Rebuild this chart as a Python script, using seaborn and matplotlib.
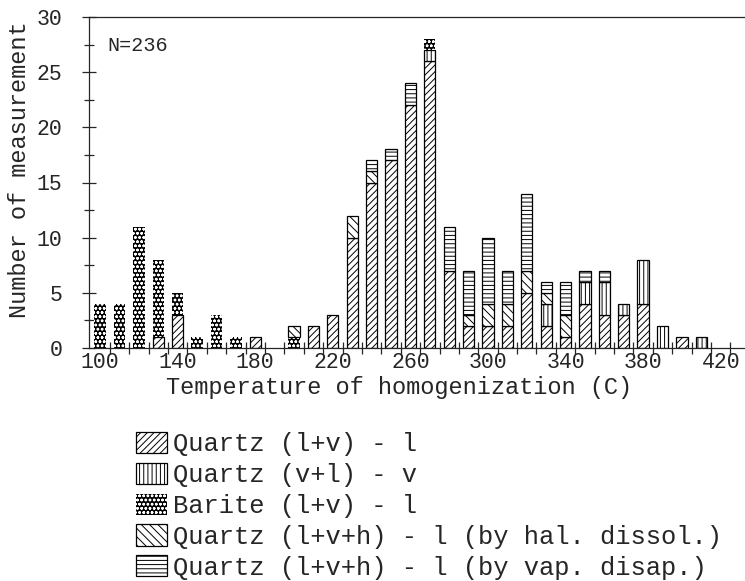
import numpy as np
import pandas as pd
import matplotlib
matplotlib.use("Agg")
import matplotlib.pyplot as plt
import matplotlib.patches as mpatches
import seaborn as sns

# ---- data ----
temps = [100, 110, 120, 130, 140, 150, 160, 170, 180, 190, 200, 210, 220, 230, 240,
         250, 260, 270, 280, 290, 300, 310, 320, 330, 340, 350, 360, 370, 380, 390,
         400, 410]
quartz_lv_l = [0, 0, 0, 1, 3, 0, 0, 0, 1, 0, 0, 2, 3, 10, 15,
               17, 22, 26, 7, 2, 2, 2, 5, 2, 1, 4, 3, 3, 4, 0,
               1, 0]
quartz_vl_v = [0, 0, 0, 0, 0, 0, 0, 0, 0, 0, 0, 0, 0, 0, 0,
               0, 0, 1, 0, 0, 0, 0, 0, 2, 0, 2, 3, 1, 4, 2,
               0, 1]
barite_lv_l = [4, 4, 11, 7, 2, 1, 3, 1, 0, 0, 1, 0, 0, 0, 0,
               0, 0, 1, 0, 0, 0, 0, 0, 0, 0, 0, 0, 0, 0, 0,
               0, 0]
quartz_hal = [0, 0, 0, 0, 0, 0, 0, 0, 0, 0, 1, 0, 0, 2, 1,
              0, 0, 0, 0, 1, 2, 2, 2, 1, 2, 0, 0, 0, 0, 0,
              0, 0]
quartz_vap = [0, 0, 0, 0, 0, 0, 0, 0, 0, 0, 0, 0, 0, 0, 1,
              1, 2, 0, 4, 4, 6, 3, 7, 1, 3, 1, 1, 0, 0, 0,
              0, 0]
labels = ["Quartz (l+v) - l",
          "Quartz (v+l) - v",
          "Barite (l+v) - l",
          "Quartz (l+v+h) - l (by hal. dissol.)",
          "Quartz (l+v+h) - l (by vap. disap.)"]
series = [quartz_lv_l, quartz_vl_v, barite_lv_l, quartz_hal, quartz_vap]
x_tick_labels = [100, 140, 180, 220, 260, 300, 340, 380, 420]
y_tick_labels = [0, 5, 10, 15, 20, 25, 30]
n_text = "N=236"

# ---- styling ----
sns.set_style("ticks")
plt.rcParams["font.family"] = ["Liberation Mono", "DejaVu Sans Mono"]
plt.rcParams["hatch.linewidth"] = 0.7
plt.rcParams["axes.linewidth"] = 0.9

styles = [
    dict(facecolor="white", edgecolor="black", hatch="/////", lw=0.9),
    dict(facecolor="white", edgecolor="black", hatch="||||", lw=0.9),
    dict(facecolor="black", edgecolor="white", hatch="oooo", lw=0.0),
    dict(facecolor="white", edgecolor="black", hatch="\\\\\\\\", lw=0.9),
    dict(facecolor="white", edgecolor="black", hatch="----", lw=0.9),
]

rows = []
for lab, vals in zip(labels, series):
    for t, v in zip(temps, vals):
        rows.append({"temp": float(t), "mineral": lab, "count": float(v)})
df = pd.DataFrame(rows)

fig = plt.figure(figsize=(7.45, 5.81), dpi=100)
ax = fig.add_axes([89 / 745, 1 - 348 / 581, 656 / 745, 331 / 581])

edges = [float(t) - 5 for t in temps] + [float(temps[-1]) + 5]
sns.histplot(data=df, x="temp", weights="count", hue="mineral",
             hue_order=labels[::-1], multiple="stack", bins=edges,
             shrink=0.585, legend=False, ax=ax)

# assign hatch styles by matching container heights to series
for cont in ax.containers:
    heights = [int(round(p.get_height())) for p in cont.patches]
    idx = None
    for i, vals in enumerate(series):
        if heights == list(vals):
            idx = i
            break
    if idx is None:
        continue
    st = styles[idx]
    for p in cont.patches:
        if p.get_height() <= 0:
            p.set_visible(False)
            continue
        p.set_facecolor(st["facecolor"])
        p.set_edgecolor(st["edgecolor"])
        p.set_hatch(st["hatch"])
        p.set_linewidth(st["lw"])
        p.set_alpha(1)

ax.set_xlim(94.3, 432.5)
ax.set_ylim(0, 30)
ax.set_xticks(x_tick_labels)
ax.set_xticklabels([str(v) for v in x_tick_labels], fontsize=15.5)
ax.set_xticks(np.arange(105, 430, 10), minor=True)
ax.tick_params(axis="x", which="major", length=0, pad=3)
ax.tick_params(axis="x", which="minor", direction="inout", length=9, width=0.9)
ax.set_yticks(y_tick_labels)
ax.set_yticklabels([str(v) for v in y_tick_labels], fontsize=15.5)
ax.set_yticks(np.arange(0, 30.1, 2.5), minor=True)
ax.tick_params(axis="y", which="major", direction="inout", length=10, width=0.9, pad=14)
ax.tick_params(axis="y", which="minor", direction="inout", length=6.5, width=0.9)

ax.spines["right"].set_visible(False)
ax.spines["top"].set_visible(True)

ax.set_xlabel("Temperature of homogenization (C)", fontsize=17)
ax.xaxis.set_label_coords(0.4726, -0.085)
ax.set_ylabel("Number of measurement", fontsize=17)
ax.yaxis.set_label_coords(-0.089, 0.54)

ax.text(0.028, 0.915, n_text, transform=ax.transAxes, fontsize=14.5,
        ha="left", va="center")

handles = [mpatches.Patch(facecolor=s["facecolor"], edgecolor=s["edgecolor"],
                          hatch=s["hatch"], linewidth=max(s["lw"], 0.0))
           for s in styles]
fig.legend(handles, labels, loc="upper left", bbox_to_anchor=(136 / 745, 1 - 432 / 581),
           frameon=False, fontsize=18.4, handlelength=1.2, handleheight=0.9,
           handletextpad=0.25, labelspacing=0.25, borderpad=0, borderaxespad=0)

fig.savefig("out.png", dpi=100)
